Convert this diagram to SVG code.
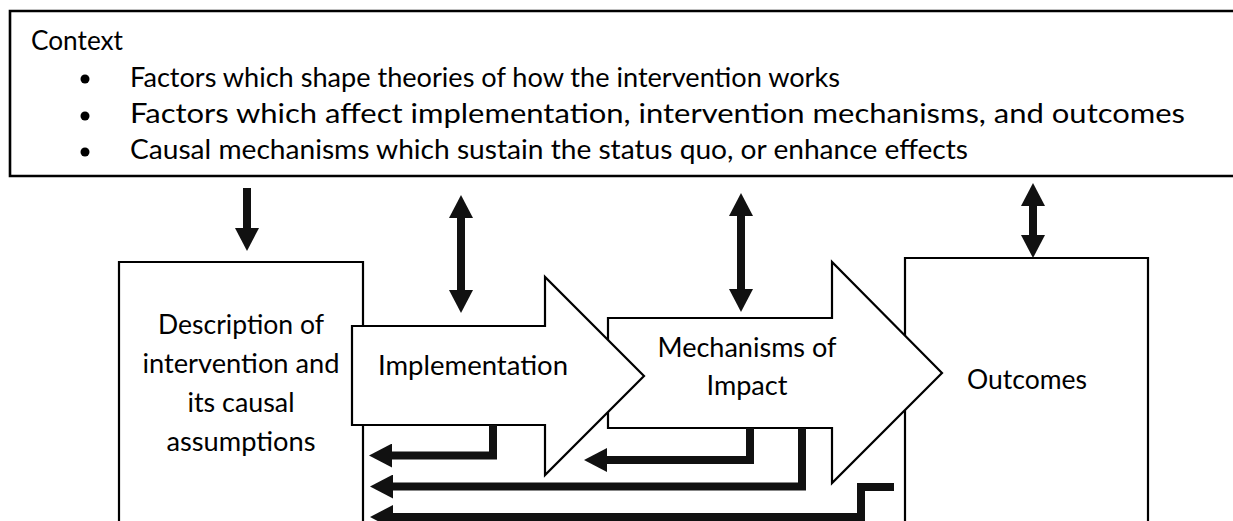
<svg xmlns="http://www.w3.org/2000/svg" width="1233" height="521" viewBox="0 0 1233 521">
  <style>
    .t { font-family: Lato, "Open Sans", "Liberation Sans", sans-serif; font-size: 26px; fill: #000; }
    .c { text-anchor: middle; }
    .box { fill: #fff; stroke: #000; stroke-width: 2.2; }
    .ctx { fill: #fff; stroke: #000; stroke-width: 2.6; }
    .conn { fill: none; stroke: #111; stroke-width: 8; stroke-linejoin: miter; }
  </style>
  <defs>
    <marker id="head" viewBox="0 0 23 24" refX="0" refY="12" markerWidth="23" markerHeight="24" markerUnits="userSpaceOnUse" orient="auto-start-reverse">
      <path d="M0 0 L23 12 L0 24 Z" fill="#111"/>
    </marker>
  </defs>

  <g id="context">
    <path class="ctx" d="M1233 11 H10 V176 H1233"/>
    <text class="t" x="31" y="50" textLength="92" lengthAdjust="spacingAndGlyphs">Context</text>
    <circle cx="85" cy="79" r="4.5" fill="#000"/>
    <circle cx="85" cy="116" r="4.5" fill="#000"/>
    <circle cx="85" cy="152" r="4.5" fill="#000"/>
    <text class="t" x="130" y="87" textLength="710" lengthAdjust="spacingAndGlyphs">Factors which shape theories of how the intervention works</text>
    <text class="t" x="130" y="123" textLength="1055" lengthAdjust="spacingAndGlyphs">Factors which affect implementation, intervention mechanisms, and outcomes</text>
    <text class="t" x="130" y="159" textLength="838" lengthAdjust="spacingAndGlyphs">Causal mechanisms which sustain the status quo, or enhance effects</text>
  </g>

  <g id="description">
    <path class="box" d="M119 521 V262 H363 V521"/>
    <text class="t c" x="241" y="334" textLength="166" lengthAdjust="spacingAndGlyphs">Description of</text>
    <text class="t c" x="241" y="373" textLength="197" lengthAdjust="spacingAndGlyphs">intervention and</text>
    <text class="t c" x="241" y="412" textLength="107" lengthAdjust="spacingAndGlyphs">its causal</text>
    <text class="t c" x="241" y="451" textLength="149" lengthAdjust="spacingAndGlyphs">assumptions</text>
  </g>

  <g id="outcomes">
    <path class="box" d="M905 521 V258 H1148 V521"/>
    <text class="t c" x="1027" y="389" textLength="120" lengthAdjust="spacingAndGlyphs">Outcomes</text>
  </g>

  <g id="mechanisms">
    <path class="box" d="M608 318 H832 V262 L942 373 L832 483 V428 H608 Z"/>
    <text class="t c" x="747" y="357" textLength="179" lengthAdjust="spacingAndGlyphs">Mechanisms of</text>
    <text class="t c" x="747" y="395" textLength="81" lengthAdjust="spacingAndGlyphs">Impact</text>
  </g>

  <g id="implementation">
    <path class="box" d="M352 326 H545 V277 L644 376 L545 475 V425 H352 Z"/>
    <text class="t c" x="473" y="375" textLength="190" lengthAdjust="spacingAndGlyphs">Implementation</text>
  </g>

  <g id="connectors">
    <path class="conn" d="M247 188 V228" marker-end="url(#head)"/>
    <path class="conn" d="M461 218 V290" marker-start="url(#head)" marker-end="url(#head)"/>
    <path class="conn" d="M741 216 V289" marker-start="url(#head)" marker-end="url(#head)"/>
    <path class="conn" d="M1033 206 V235" marker-start="url(#head)" marker-end="url(#head)"/>
    <path class="conn" d="M493 425 V455.5 H392" marker-end="url(#head)"/>
    <path class="conn" d="M750 428 V460 H607" marker-end="url(#head)"/>
    <path class="conn" d="M802 428 V486.5 H393" marker-end="url(#head)"/>
    <path class="conn" d="M894 487 H861 V517 H393" marker-end="url(#head)"/>
  </g>
</svg>
